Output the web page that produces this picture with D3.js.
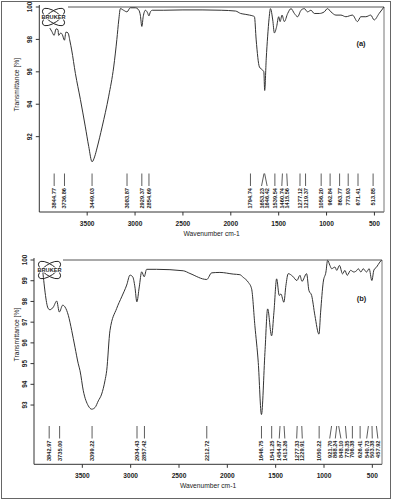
<!DOCTYPE html>
<html>
<head>
<meta charset="utf-8">
<script src="https://cdn.jsdelivr.net/npm/d3@7"></script>
<style>
  body { margin: 0; background: #fff; }
  svg { display: block; font-family: Arial, "Liberation Sans", sans-serif; }
</style>
</head>
<body>
<script>

// *** DATA ***

// Spectrum (a): wavenumber (cm-1) and transmittance (%)
var waveA = [3890, 3870, 3845, 3825, 3805, 3798, 3775, 3760, 3737, 3722, 3700, 3680, 3662, 3623, 3571,
  3519, 3484, 3449, 3420, 3397, 3344, 3275, 3223, 3190, 3170, 3153, 3120, 3084, 3050, 2996,
  2960, 2945, 2929, 2915, 2891, 2870, 2855, 2840, 2820, 2700, 2500, 2300, 2100, 1950, 1897,
  1850, 1805, 1770, 1753, 1735, 1701, 1667, 1655, 1646, 1630, 1615, 1600, 1586, 1562, 1545,
  1521, 1500, 1485, 1465, 1441, 1406, 1371, 1336, 1302, 1267, 1232, 1198, 1163, 1128, 1076,
  1024, 990, 954, 902, 850, 798, 729, 677, 642, 590, 538, 503, 451, 400];
var transA = [98.7, 98.5, 98.25, 98.65, 98.6, 98.25, 98.4, 98.3, 97.95, 98.45, 98.4, 97.9, 97.35, 95.9, 94.3,
  92.6, 91.4, 90.45, 90.8, 91.3, 92.6, 94.5, 96.3, 98.0, 99.2, 99.9, 99.8, 99.7, 99.95, 99.95,
  99.8, 99.5, 98.8, 99.4, 99.8, 99.65, 99.45, 99.7, 99.8, 99.8, 99.82, 99.82, 99.8, 99.75, 99.6,
  99.55, 99.5, 99.45, 99.4, 97.97, 96.3, 96.1, 96.0, 94.85, 96.8, 98.2, 99.3, 99.9, 99.2, 98.4,
  98.8, 99.4, 99.1, 99.5, 99.1, 99.6, 99.9, 99.6, 99.4, 99.8, 99.9, 99.7, 99.8, 99.6, 99.6,
  99.7, 99.9, 99.7, 99.5, 99.5, 99.4, 99.5, 99.1, 99.4, 99.4, 99.5, 99.2, 99.6, 100.0];
var peaksA = ["3844.77", "3736.86", "3449.03", "3083.87", "2929.37", "2854.69", "1794.74", "1653.23",
  "1646.42", "1539.54", "1460.74", "1415.56", "1277.12", "1219.37", "1056.20", "962.84", "863.77",
  "773.93", "671.41", "513.85"];

// Spectrum (b)
var waveB = [3910, 3852, 3835, 3800, 3765, 3738, 3703, 3679, 3645, 3610, 3576, 3542, 3524, 3490, 3438,
  3403, 3369, 3335, 3300, 3266, 3248, 3214, 3145, 3093, 3041, 3007, 2979, 2956, 2936, 2911,
  2886, 2860, 2835, 2731, 2456, 2387, 2213, 2162, 2077, 1939, 1870, 1835, 1784, 1749, 1715,
  1680, 1647, 1611, 1583, 1542, 1518, 1490, 1463, 1446, 1415, 1394, 1370, 1325, 1280, 1249,
  1228, 1180, 1156, 1128, 1094, 1052, 1035, 1008, 980, 963, 939, 921, 887, 868, 840,
  808, 784, 760, 725, 691, 660, 646, 618, 595, 560, 533, 505, 484, 456, 422, 404];
var transB = [99.48, 97.65, 97.6, 97.73, 98.02, 97.49, 97.82, 97.73, 97.33, 96.6, 95.79, 94.99, 94.66, 93.69, 92.96,
  92.8, 92.88, 93.2, 93.53, 94.17, 94.66, 96.6, 97.66, 98.22, 98.79, 99.27, 99.19, 98.7, 97.98, 98.7,
  99.43, 99.19, 99.55, 99.55, 99.48, 99.35, 99.06, 99.38, 99.4, 99.32, 99.29, 99.16, 98.93, 98.61, 96.83,
  95.05, 92.54, 95.53, 97.64, 96.34, 97.48, 99.09, 98.29, 98.36, 97.96, 98.77, 99.34, 99.22, 99.01, 99.26,
  98.97, 99.34, 98.53, 98.29, 97.32, 96.42, 97.48, 98.93, 99.42, 99.98, 99.74, 99.58, 99.66, 99.5, 99.74,
  99.33, 99.5, 99.26, 99.5, 99.42, 99.5, 99.58, 99.42, 99.58, 99.42, 99.58, 99.01, 99.51, 99.66, 99.9, 100.0];
var peaksB = ["3842.97", "3735.00", "3399.22", "2934.43", "2857.42", "2212.72", "1646.75", "1541.25",
  "1454.87", "1413.26", "1277.33", "1229.91", "1050.22", "921.70", "868.24", "848.10", "778.35",
  "706.38", "626.41", "540.73", "503.38", "457.92"];

// Axis ticks
var xTicks = [3500, 3000, 2500, 2000, 1500, 1000, 500];
var yTicksA = [92, 94, 96, 98, 100];
var yTicksB = [93, 94, 95, 96, 97, 98, 99, 100];

// *** FUNCTIONS ***

var svg = d3.select("body").append("svg")
  .attr("width", 393)
  .attr("height", 500);

// outer border
svg.append("rect")
  .attr("x", 1.5).attr("y", 1.5)
  .attr("width", 389).attr("height", 497)
  .style("fill", "none").style("stroke", "#666").style("stroke-width", 1);

// FUNCTION: Bruker logo
function drawLogo(cx, cy) {
  var g = svg.append("g").attr("transform", "translate(" + cx + "," + cy + ")");
  [-35, 35].forEach(function(a) {
    g.append("ellipse")
      .attr("rx", 13).attr("ry", 5.5)
      .attr("transform", "rotate(" + a + ")")
      .style("fill", "none").style("stroke", "#222").style("stroke-width", 0.9);
  });
  g.append("rect").attr("x", -11).attr("y", -2.6).attr("width", 22).attr("height", 5.2).style("fill", "#fff");
  g.append("text")
    .attr("y", 2)
    .attr("text-anchor", "middle")
    .style("font-size", "5.6px").style("font-weight", "bold").style("fill", "#222")
    .text("BRUKER");
}

// FUNCTION: Spread peak labels so they do not overlap
function spreadLabels(xs, gap) {
  var pos = xs.slice();
  for (var it = 0; it < 80; it++) {
    for (var i = 0; i < pos.length - 1; i++) {
      var d = pos[i + 1] - pos[i];
      if (d < gap) {
        pos[i] -= (gap - d) / 2;
        pos[i + 1] += (gap - d) / 2;
      }
    }
  }
  return pos;
}

// FUNCTION: Draw one spectrum panel
function drawPanel(p) {
  var x = d3.scaleLinear().domain([4000, 400]).range([p.left, p.right]);
  var y = d3.scaleLinear().domain([p.yMin, 100]).range([p.bottom, p.top]);

  var g = svg.append("g");

  // frame
  g.append("line").attr("x1", p.left).attr("x2", p.left).attr("y1", p.top - 2).attr("y2", p.bottom)
    .style("stroke", "#333").style("stroke-width", 1);
  g.append("line").attr("x1", p.left).attr("x2", p.right).attr("y1", p.bottom).attr("y2", p.bottom)
    .style("stroke", "#333").style("stroke-width", 1);
  g.append("line").attr("x1", p.right).attr("x2", p.right).attr("y1", p.top).attr("y2", p.bottom)
    .style("stroke", "#777").style("stroke-width", 1);
  g.append("line").attr("x1", p.frameStart).attr("x2", p.right).attr("y1", p.top).attr("y2", p.top)
    .style("stroke", "#555").style("stroke-width", 1);

  // x axis
  g.selectAll(".xt").data(xTicks).enter().append("line")
    .attr("x1", function(d) { return x(d); }).attr("x2", function(d) { return x(d); })
    .attr("y1", p.bottom).attr("y2", p.bottom + 3.5)
    .style("stroke", "#333");
  g.selectAll(".xl").data(xTicks).enter().append("text")
    .attr("x", function(d) { return x(d); })
    .attr("y", p.bottom + 13.5)
    .attr("text-anchor", "middle")
    .style("font-size", "6.6px").style("font-weight", "bold").style("fill", "#222")
    .text(function(d) { return d; });
  g.append("text")
    .attr("x", (p.left + p.right) / 2).attr("y", p.bottom + 23.5)
    .attr("text-anchor", "middle")
    .style("font-size", "6.7px").style("fill", "#222")
    .text("Wavenumber cm-1");

  // y axis
  g.selectAll(".yt").data(p.yTicks).enter().append("line")
    .attr("x1", p.left - 3.5).attr("x2", p.left)
    .attr("y1", function(d) { return y(d); }).attr("y2", function(d) { return y(d); })
    .style("stroke", "#333");
  g.selectAll(".yl").data(p.yTicks).enter().append("text")
    .attr("transform", function(d) { return "translate(" + (p.left - 7) + "," + y(d) + ") rotate(-90)"; })
    .attr("text-anchor", "middle")
    .style("font-size", "6.4px").style("font-weight", "bold").style("fill", "#222")
    .text(function(d) { return d; });
  g.append("text")
    .attr("transform", "translate(" + 18.5 + "," + y(p.titleAt) + ") rotate(-90)")
    .attr("text-anchor", "middle")
    .style("font-size", "6.7px").style("fill", "#222")
    .text("Transmittance [%]");

  // spectrum
  var pts = p.wave.map(function(w, i) { return [w, p.trans[i]]; });
  var line = d3.line()
    .x(function(d) { return x(d[0]); })
    .y(function(d) { return y(d[1]); })
    .curve(d3.curveMonotoneX);
  g.append("path").datum(pts).attr("d", line)
    .style("fill", "none").style("stroke", "#333").style("stroke-width", 1);

  // peak labels
  var px = p.peaks.map(function(s) { return x(parseFloat(s)); });
  var lx = spreadLabels(px, 5.6);
  p.peaks.forEach(function(s, i) {
    g.append("line")
      .attr("x1", px[i]).attr("y1", p.pkTop)
      .attr("x2", lx[i]).attr("y2", p.pkTop + 12.5)
      .style("stroke", "#333").style("stroke-width", 0.8);
    g.append("text")
      .attr("transform", "translate(" + (lx[i] + 2) + "," + (p.pkTop + 14.5) + ") rotate(-90)")
      .attr("text-anchor", "end")
      .style("font-size", "5.7px").style("font-weight", "bold").style("fill", "#222")
      .text(s);
  });

  // panel tag
  g.append("text")
    .attr("x", p.tagX).attr("y", p.tagY)
    .attr("text-anchor", "middle")
    .style("font-size", "7.5px").style("font-weight", "bold").style("fill", "#222")
    .text(p.tag);
}

// *** CODE ***

drawPanel({
  wave: waveA, trans: transA, peaks: peaksA, yTicks: yTicksA,
  left: 39.3, right: 384, top: 7, bottom: 212, yMin: 87.35,
  frameStart: 68, pkTop: 173.5, titleAt: 95.2, tag: "(a)", tagX: 361, tagY: 46
});
drawPanel({
  wave: waveB, trans: transB, peaks: peaksB, yTicks: yTicksB,
  left: 34, right: 382, top: 260, bottom: 464.3, yMin: 90.14,
  frameStart: 63, pkTop: 426, titleAt: 96.4, tag: "(b)", tagX: 361.5, tagY: 301
});

drawLogo(53.5, 17);
drawLogo(49.5, 270);

</script>
</body>
</html>
